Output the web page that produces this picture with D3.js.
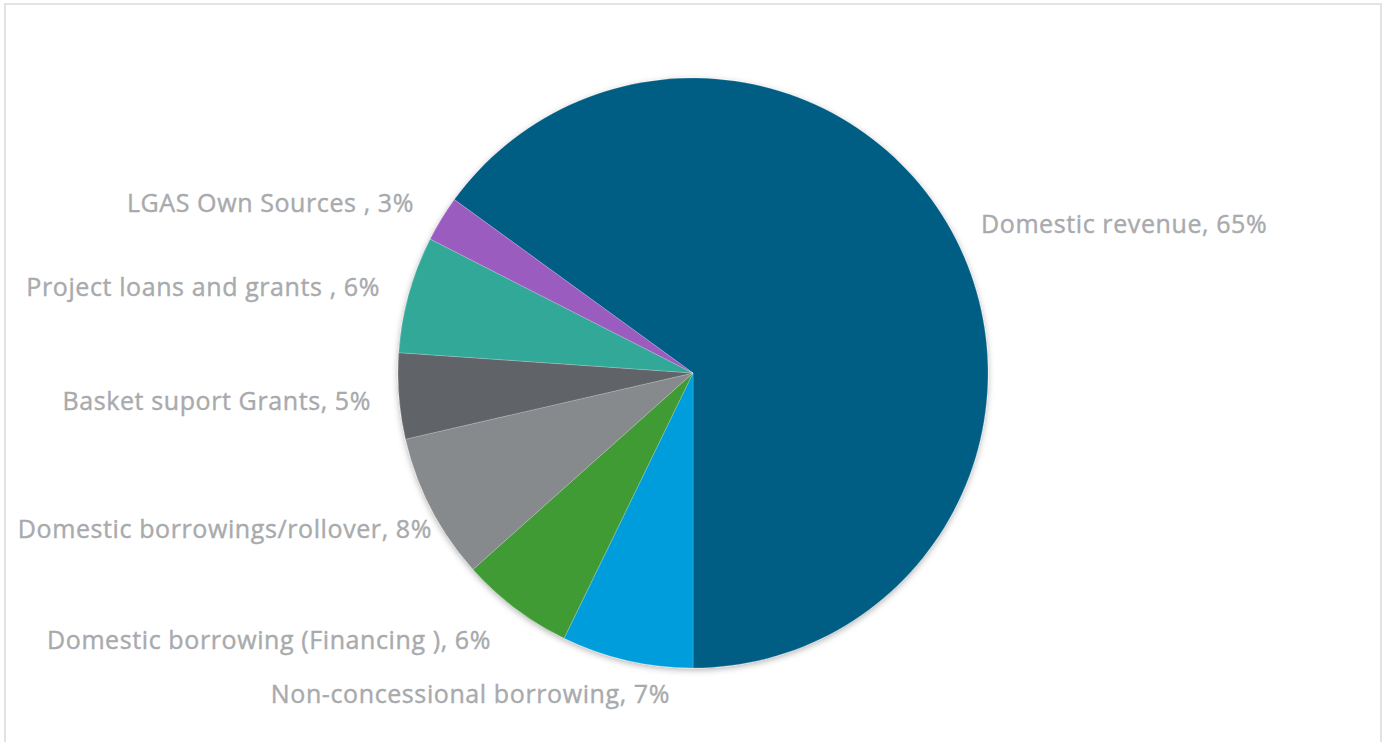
<!DOCTYPE html>
<html>
<head>
<meta charset="utf-8">
<script src="https://cdn.jsdelivr.net/npm/d3@7"></script>
<style>
  body { margin: 0; background: #fff; }
  svg { display: block; }
</style>
</head>
<body>
<div id="chart"></div>
<script>
// slice data, in drawing order (clockwise from the first slice)
const categories = [
    "Domestic revenue",
    "Non-concessional borrowing",
    "Domestic borrowing (Financing )",
    "Domestic borrowings/rollover",
    "Basket suport Grants",
    "Project loans and grants ",
    "LGAS Own Sources "
];
const values = [65, 7.2, 6.2, 8.0, 4.7, 6.4, 2.5];
const pctLabels = ["65%", "7%", "6%", "8%", "5%", "6%", "3%"];

const sliceColors = ["#005d83", "#009ddc", "#3f9b35", "#878a8c", "#606368", "#33a898", "#9b5bbf"];

// label anchor spots (Excel "best fit" placement), anchor = text-anchor
const labelSpots = [
    { x: 981, y: 233, anchor: "start" },
    { x: 670, y: 703, anchor: "end" },
    { x: 491, y: 649, anchor: "end" },
    { x: 432, y: 538, anchor: "end" },
    { x: 371, y: 410, anchor: "end" },
    { x: 380, y: 296, anchor: "end" },
    { x: 414, y: 212, anchor: "end" }
];

const W = 1387, H = 742;
const cx = 693, cy = 373, radius = 295;

const svg = d3.select("#chart").append("svg")
    .attr("width", W)
    .attr("height", H);

// soft shadow under the pie
const defs = svg.append("defs");
defs.append("filter")
    .attr("id", "pieShadow")
    .attr("x", "-10%").attr("y", "-10%")
    .attr("width", "120%").attr("height", "120%")
    .append("feDropShadow")
    .attr("dx", 0)
    .attr("dy", 2)
    .attr("stdDeviation", 3)
    .attr("flood-color", "#000")
    .attr("flood-opacity", 0.3);

// chart frame
svg.append("rect")
    .attr("x", 5)
    .attr("y", 4)
    .attr("width", 1376)
    .attr("height", 760)
    .attr("fill", "none")
    .attr("stroke", "#e3e3e3")
    .attr("stroke-width", 2);

const startAngle = -54 * Math.PI / 180; // first slice angle 306deg

const pie = d3.pie()
    .sort(null)
    .value(d => d)
    .startAngle(startAngle)
    .endAngle(startAngle + 2 * Math.PI);

const arc = d3.arc()
    .innerRadius(0)
    .outerRadius(radius);

const g = svg.append("g")
    .attr("transform", `translate(${cx},${cy})`)
    .attr("filter", "url(#pieShadow)");

g.selectAll("path")
    .data(pie(values))
    .join("path")
    .attr("d", arc)
    .attr("fill", (d, i) => sliceColors[i])
    .attr("stroke", "#ffffff")
    .attr("stroke-opacity", 0.5)
    .attr("stroke-width", 0.4);

// data labels
svg.append("g")
    .selectAll("text")
    .data(categories)
    .join("text")
    .attr("x", (d, i) => labelSpots[i].x)
    .attr("y", (d, i) => labelSpots[i].y)
    .attr("text-anchor", (d, i) => labelSpots[i].anchor)
    .attr("font-family", "'Open Sans', sans-serif")
    .attr("font-size", 25)
    .attr("font-weight", 500)
    .attr("letter-spacing", 0.6)
    .attr("fill", "#a8aaad")
    .attr("stroke", "#a8aaad")
    .attr("stroke-width", 0.4)
    .text((d, i) => `${d}, ${pctLabels[i]}`);
</script>
</body>
</html>
